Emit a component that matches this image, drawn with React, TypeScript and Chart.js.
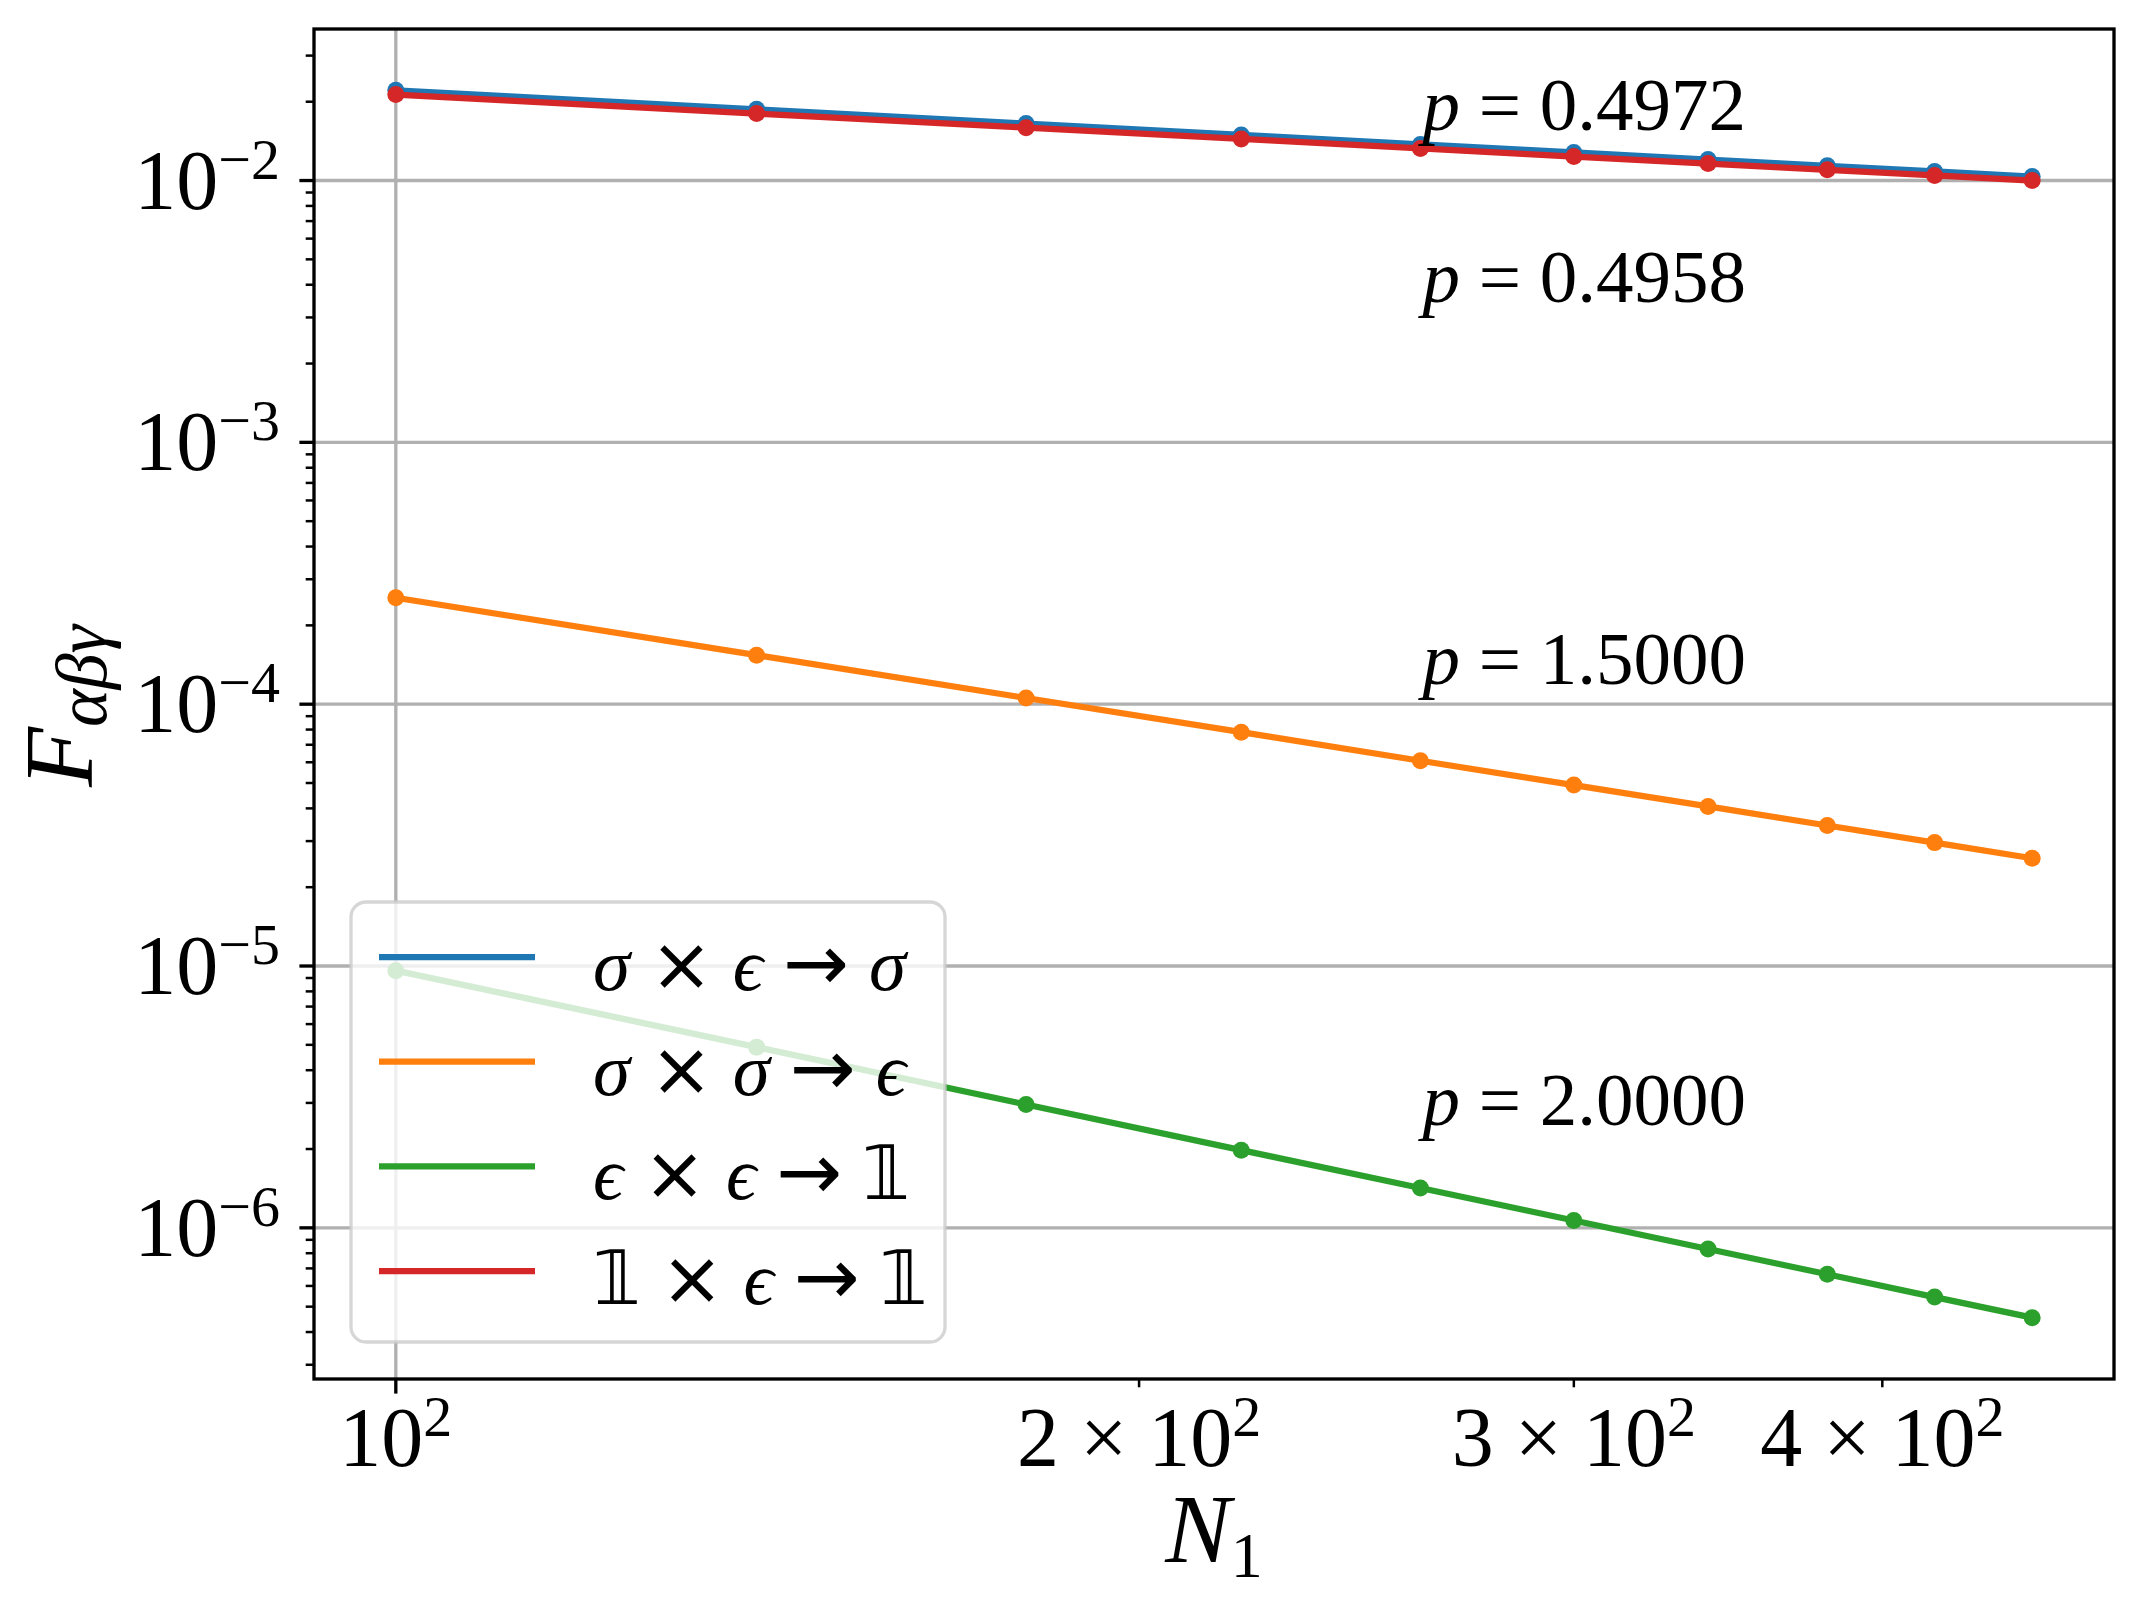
import React, { useEffect, useRef } from "react";
import { Chart, registerables } from "chart.js";

Chart.register(...registerables);

// ---------------- data ----------------
const N1 = [100, 140, 180, 220, 260, 300, 340, 380, 420, 460];
const sigmaEpsToSigma = [0.0221, 0.0187, 0.0165, 0.01493, 0.01374, 0.0128, 0.01203, 0.01138, 0.01083, 0.01035];
const sigmaSigmaToEps = [2.55e-4, 1.539e-4, 1.056e-4, 7.82e-5, 6.08e-5, 4.91e-5, 4.07e-5, 3.44e-5, 2.96e-5, 2.58e-5];
const epsEpsToOne = [9.6e-6, 4.9e-6, 2.96e-6, 1.98e-6, 1.42e-6, 1.067e-6, 8.3e-7, 6.65e-7, 5.44e-7, 4.54e-7];
const oneEpsToOne = [0.0213, 0.01803, 0.01592, 0.01441, 0.01326, 0.01235, 0.01161, 0.01099, 0.01046, 0.01];

const seriesValues = [sigmaEpsToSigma, sigmaSigmaToEps, epsEpsToOne, oneEpsToOne];
const seriesLabels = ["σ × ϵ → σ", "σ × σ → ϵ", "ϵ × ϵ → 𝟙", "𝟙 × ϵ → 𝟙"];
const seriesColors = ["#1f77b4", "#ff7f0e", "#2ca02c", "#d62728"];

// fitted exponents annotated next to each series
const fitExponents = ["0.4972", "0.4958", "1.5000", "2.0000"];
const fitLabelN = 260;
const fitLabelY = [0.01566, 0.00345, 1.19e-4, 2.47e-6];

// tick labels
const yMajorExponents = [-2, -3, -4, -5, -6];
const xTickValues = [100, 200, 300, 400];
const xTickMantissas = ["", "2", "3", "4"];
const xTickExponent = "2";

// ---------------- helpers ----------------
const SERIF = '"Liberation Serif", "DejaVu Serif", "DejaVu Sans", serif';
const SYMBOL = '"DejaVu Sans", "DejaVu Serif", sans-serif';

type Run = { t: string; size: number; italic?: boolean; dy?: number; family?: string };

function fontOf(r: Run) {
  return `${r.italic ? "italic " : ""}${r.size}px ${r.family || SERIF}`;
}

function runsWidth(ctx: CanvasRenderingContext2D, runs: Run[]) {
  let w = 0;
  for (const r of runs) {
    ctx.font = fontOf(r);
    w += ctx.measureText(r.t).width;
  }
  return w;
}

function drawRuns(
  ctx: CanvasRenderingContext2D,
  runs: Run[],
  x: number,
  y: number,
  align: "left" | "center" | "right"
) {
  const w = runsWidth(ctx, runs);
  let cx = align === "left" ? x : align === "center" ? x - w / 2 : x - w;
  ctx.textAlign = "left";
  ctx.textBaseline = "alphabetic";
  for (const r of runs) {
    ctx.font = fontOf(r);
    ctx.fillText(r.t, cx, y + (r.dy || 0));
    cx += ctx.measureText(r.t).width;
  }
}

// legend math: tokens separated by spaces, laid out with TeX-like gaps
function drawMath(ctx: CanvasRenderingContext2D, text: string, x: number, y: number, size: number, gap: number) {
  let cx = x;
  ctx.textAlign = "left";
  ctx.textBaseline = "alphabetic";
  for (const tok of text.split(" ")) {
    const italic = tok === "σ" || tok === "ϵ";
    const isSym = tok === "×" || tok === "→" || tok === "𝟙";
    const r: Run = { t: tok, size: tok === "→" ? size * 1.05 : size, italic, family: isSym ? SYMBOL : SERIF };
    ctx.font = fontOf(r);
    ctx.fillText(tok, cx, y);
    cx += ctx.measureText(tok).width + gap;
  }
}

function logRange(values: number[], marginFrac: number) {
  const lo = Math.log10(Math.min(...values));
  const hi = Math.log10(Math.max(...values));
  const m = (hi - lo) * marginFrac;
  return { min: Math.pow(10, lo - m), max: Math.pow(10, hi + m) };
}

const allY = ([] as number[]).concat(...seriesValues);
const xRange = logRange(N1, 0.05);
const yRange = logRange(allY, 0.05);

const GRID_W = 3.33;
const MAJOR_LEN = 14.6;
const MINOR_LEN = 8.3;

const mplPlugin = {
  id: "mplStyle",
  beforeDatasetsDraw(chart: any) {
    const { ctx, chartArea: a, scales } = chart;
    const x = scales.x;
    const y = scales.y;
    ctx.save();
    ctx.strokeStyle = "#b0b0b0";
    ctx.lineWidth = GRID_W;
    for (const e of yMajorExponents) {
      const py = y.getPixelForValue(Math.pow(10, e));
      ctx.beginPath();
      ctx.moveTo(a.left, py);
      ctx.lineTo(a.right, py);
      ctx.stroke();
    }
    for (const v of xTickValues) {
      if (Math.abs(Math.log10(v) - Math.round(Math.log10(v))) > 1e-9) continue;
      const px = x.getPixelForValue(v);
      ctx.beginPath();
      ctx.moveTo(px, a.top);
      ctx.lineTo(px, a.bottom);
      ctx.stroke();
    }
    ctx.restore();
  },
  afterDatasetsDraw(chart: any) {
    const { ctx, scales } = chart;
    const x = scales.x;
    const y = scales.y;
    ctx.save();
    ctx.fillStyle = "#000";
    // annotations
    const ax = x.getPixelForValue(fitLabelN) + 2;
    fitExponents.forEach((p, i) => {
      const ay = y.getPixelForValue(fitLabelY[i]);
      drawRuns(
        ctx,
        [
          { t: "p", size: 75, italic: true },
          { t: " = " + p, size: 75 },
        ],
        ax,
        ay,
        "left"
      );
    });

    // legend
    const lx = 351,
      ly = 902,
      lw = 594,
      lh = 440,
      rad = 15;
    ctx.beginPath();
    ctx.moveTo(lx + rad, ly);
    ctx.lineTo(lx + lw - rad, ly);
    ctx.arcTo(lx + lw, ly, lx + lw, ly + rad, rad);
    ctx.lineTo(lx + lw, ly + lh - rad);
    ctx.arcTo(lx + lw, ly + lh, lx + lw - rad, ly + lh, rad);
    ctx.lineTo(lx + rad, ly + lh);
    ctx.arcTo(lx, ly + lh, lx, ly + lh - rad, rad);
    ctx.lineTo(lx, ly + rad);
    ctx.arcTo(lx, ly, lx + rad, ly, rad);
    ctx.closePath();
    ctx.fillStyle = "rgba(255,255,255,0.8)";
    ctx.fill();
    ctx.strokeStyle = "rgba(204,204,204,0.8)";
    ctx.lineWidth = 3.3;
    ctx.stroke();

    seriesLabels.forEach((lab, i) => {
      const rowY = ly + 55 + i * 104.7;
      ctx.strokeStyle = seriesColors[i];
      ctx.lineWidth = 6.25;
      ctx.lineCap = "butt";
      ctx.beginPath();
      ctx.moveTo(379, rowY);
      ctx.lineTo(535, rowY);
      ctx.stroke();
      ctx.fillStyle = "#000";
      drawMath(ctx, lab, 593, rowY + 33, 75, 20);
    });
    ctx.restore();
  },
  afterDraw(chart: any) {
    const { ctx, chartArea: a, scales } = chart;
    const x = scales.x;
    const y = scales.y;
    ctx.save();
    // spines
    ctx.strokeStyle = "#000";
    ctx.lineWidth = GRID_W;
    ctx.strokeRect(a.left, a.top, a.right - a.left, a.bottom - a.top);

    // y ticks
    const yMinD = Math.floor(Math.log10(y.min)) - 1;
    const yMaxD = Math.ceil(Math.log10(y.max)) + 1;
    for (let d = yMinD; d <= yMaxD; d++) {
      for (let k = 1; k <= 9; k++) {
        const v = k * Math.pow(10, d);
        if (v < y.min || v > y.max) continue;
        const py = y.getPixelForValue(v);
        const major = k === 1;
        ctx.lineWidth = major ? 3.33 : 2.5;
        ctx.beginPath();
        ctx.moveTo(a.left - (major ? MAJOR_LEN : MINOR_LEN), py);
        ctx.lineTo(a.left, py);
        ctx.stroke();
      }
    }
    // x ticks
    const xMinD = Math.floor(Math.log10(x.min)) - 1;
    const xMaxD = Math.ceil(Math.log10(x.max)) + 1;
    for (let d = xMinD; d <= xMaxD; d++) {
      for (let k = 1; k <= 9; k++) {
        const v = k * Math.pow(10, d);
        if (v < x.min || v > x.max) continue;
        const px = x.getPixelForValue(v);
        const major = k === 1;
        ctx.lineWidth = major ? 3.33 : 2.5;
        ctx.beginPath();
        ctx.moveTo(px, a.bottom);
        ctx.lineTo(px, a.bottom + (major ? MAJOR_LEN : MINOR_LEN));
        ctx.stroke();
      }
    }

    ctx.fillStyle = "#000";
    // y tick labels
    for (const e of yMajorExponents) {
      const py = y.getPixelForValue(Math.pow(10, e));
      drawRuns(
        ctx,
        [
          { t: "10", size: 84 },
          { t: "−" + String(Math.abs(e)), size: 58, dy: -30 },
        ],
        a.left - 34,
        py + 28,
        "right"
      );
    }
    // x tick labels
    xTickValues.forEach((v, i) => {
      const px = x.getPixelForValue(v);
      const runs: Run[] = [];
      if (xTickMantissas[i]) runs.push({ t: xTickMantissas[i] + " × ", size: 84 });
      runs.push({ t: "10", size: 84 });
      runs.push({ t: xTickExponent, size: 58, dy: -30 });
      drawRuns(ctx, runs, px, a.bottom + 87, "center");
    });

    // x axis title
    drawRuns(
      ctx,
      [
        { t: "N", size: 98, italic: true },
        { t: "1", size: 64, dy: 15 },
      ],
      (a.left + a.right) / 2,
      a.bottom + 183,
      "center"
    );

    // y axis title
    ctx.save();
    ctx.translate(92, (a.top + a.bottom) / 2 + 2);
    ctx.rotate(-Math.PI / 2);
    drawRuns(
      ctx,
      [
        { t: "F", size: 98, italic: true },
        { t: "αβγ", size: 72, italic: true, dy: 14 },
      ],
      0,
      0,
      "center"
    );
    ctx.restore();
    ctx.restore();
  },
};

export default function App() {
  const ref = useRef<HTMLCanvasElement | null>(null);

  useEffect(() => {
    if (!ref.current) return;
    const order = [4, 3, 2, 1];
    const chart = new Chart(ref.current, {
      type: "line",
      data: {
        datasets: seriesValues.map((vals, i) => ({
          label: seriesLabels[i],
          data: N1.map((n, j) => ({ x: n, y: vals[j] })),
          borderColor: seriesColors[i],
          backgroundColor: seriesColors[i],
          pointBackgroundColor: seriesColors[i],
          pointBorderColor: seriesColors[i],
          pointBorderWidth: 0,
          pointRadius: 8.5,
          pointHoverRadius: 8.5,
          borderWidth: 6.25,
          borderJoinStyle: "round",
          fill: false,
          tension: 0,
          order: order[i],
        })),
      },
      options: {
        responsive: false,
        animation: false,
        devicePixelRatio: 1,
        events: [],
        layout: { padding: { left: 314, top: 29, right: 30, bottom: 231 } },
        plugins: {
          legend: { display: false },
          tooltip: { enabled: false },
          title: { display: false },
        },
        scales: {
          x: { type: "logarithmic", display: false, min: xRange.min, max: xRange.max },
          y: { type: "logarithmic", display: false, min: yRange.min, max: yRange.max },
        },
      } as any,
      plugins: [mplPlugin],
    });
    return () => chart.destroy();
  }, []);

  return (
    <canvas
      ref={ref}
      width={2144}
      height={1610}
      style={{ position: "absolute", left: 0, top: 0, width: 2144, height: 1610, background: "#fff" }}
    />
  );
}
